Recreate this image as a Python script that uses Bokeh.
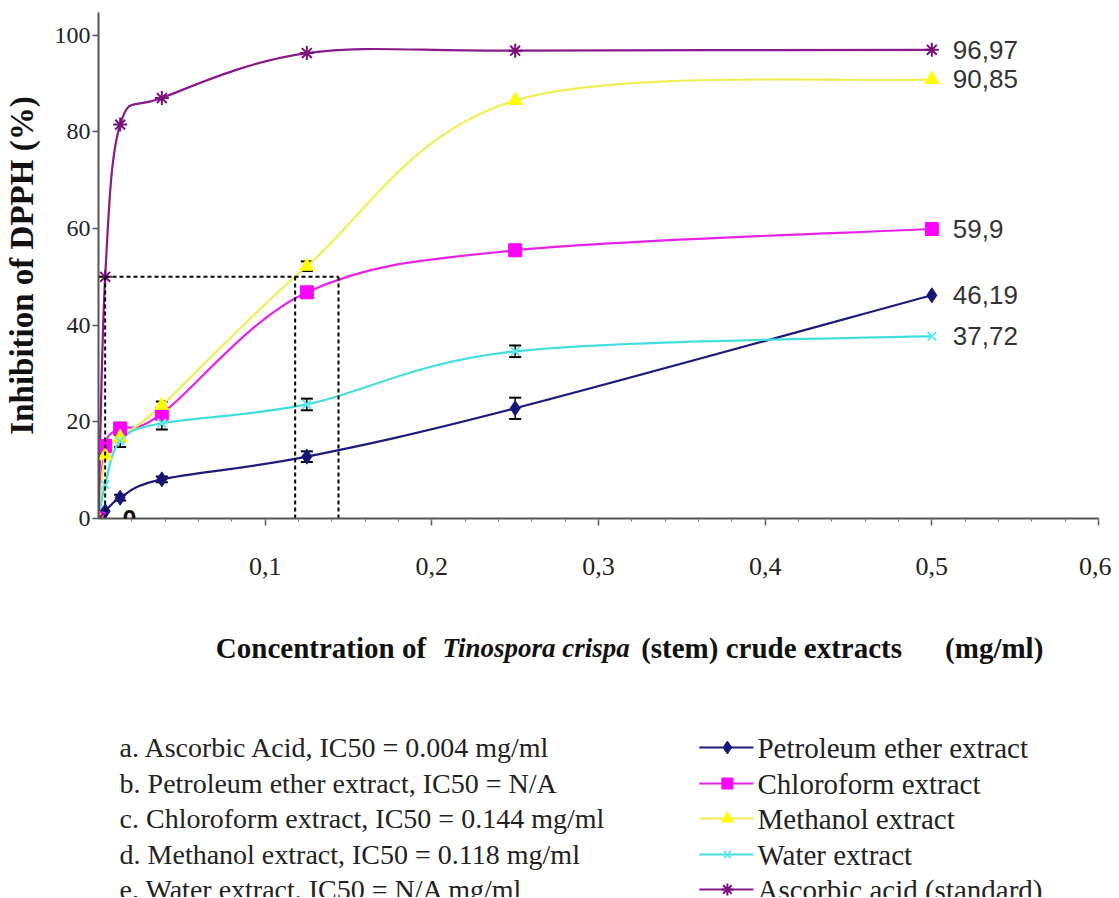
import numpy as np
from bokeh.plotting import figure
from bokeh.layouts import column
from bokeh.models import (Range1d, FixedTicker, ColumnDataSource, Whisker, TeeHead,
                          CustomJSTickFormatter, Label)
from bokeh.core.properties import value
from bokeh.embed import file_html
from bokeh.resources import INLINE

# ---------------- data ----------------
conc = [0, 0.004, 0.013, 0.038, 0.125, 0.25, 0.5]
petroleum = [0, 1.5, 4.3, 8.1, 12.8, 22.8, 46.19]
chloroform = [0, 15.0, 18.6, 21.7, 46.8, 55.5, 59.9]
methanol = [0, 13.0, 16.8, 23.4, 52.2, 86.5, 90.85]
water = [0, 7.0, 16.0, 19.7, 23.6, 34.6, 37.72]
ascorbic = [0, 50.0, 81.5, 87.0, 96.3, 96.8, 96.97]

petroleum_err = [0, 0, 0.6, 0.6, 1.1, 2.2, 0]
chloroform_err = [0, 0, 1.2, 0, 0, 0, 0]
methanol_err = [0, 0, 0.8, 0.8, 1.0, 0, 0]
water_err = [0, 0, 1.2, 1.3, 1.2, 1.2, 0]

ic50_x = [0.004, 0.118, 0.144]
ic50_y = 50

x_ticks = [0.1, 0.2, 0.3, 0.4, 0.5, 0.6]
y_ticks = [0, 20, 40, 60, 80, 100]

series_names = ["Petroleum ether extract", "Chloroform extract", "Methanol extract",
                "Water extract", "Ascorbic acid (standard)"]
notes = ["a. Ascorbic Acid, IC50 = 0.004 mg/ml",
         "b. Petroleum ether extract, IC50 = N/A",
         "c. Chloroform extract, IC50 = 0.144 mg/ml",
         "d. Methanol extract, IC50 = 0.118 mg/ml",
         "e. Water extract, IC50 = N/A mg/ml"]

SERIF_NAME = "Liberation Serif"
SERIF = value(SERIF_NAME)
SANS = value("Liberation Sans")

styles = [
    dict(vals=petroleum, err=petroleum_err, line="#1c1c7c", marker="diamond", fill="#16167a", size=15),
    dict(vals=chloroform, err=chloroform_err, line="#e622e6", marker="square", fill="#ff00ff", size=13),
    dict(vals=methanol, err=methanol_err, line="#eeee55", marker="triangle", fill="#ffff00", size=14),
    dict(vals=water, err=water_err, line="#44dddd", marker="x", fill="#66e8e8", size=12),
    dict(vals=ascorbic, err=None, line="#8a1a8a", marker="asterisk", fill="#7a107a", size=14),
]


def bezier_parts(xs, ys):
    P = np.column_stack([xs, ys]).astype(float)
    Q = np.vstack([P[0], P, P[-1]])
    out = {k: [] for k in ("x0", "y0", "x1", "y1", "cx0", "cy0", "cx1", "cy1")}
    for i in range(len(P) - 1):
        p0, p1, p2, p3 = Q[i], Q[i + 1], Q[i + 2], Q[i + 3]
        c0 = p1 + (p2 - p0) / 6.0
        c1 = p2 - (p3 - p1) / 6.0
        out["x0"].append(p1[0]); out["y0"].append(p1[1])
        out["x1"].append(p2[0]); out["y1"].append(p2[1])
        out["cx0"].append(c0[0]); out["cy0"].append(c0[1])
        out["cx1"].append(c1[0]); out["cy1"].append(c1[1])
    return out


W = 1111
p = figure(width=W, height=598, x_range=Range1d(0, 0.6), y_range=Range1d(0, 104.7),
           output_backend="svg", toolbar_location=None,
           min_border_left=93, min_border_right=13, min_border_top=12, min_border_bottom=80)
p.outline_line_color = None
p.grid.visible = False
p.background_fill_color = "white"
p.border_fill_color = "white"

# axes
xa = p.xaxis[0]
xa.ticker = FixedTicker(ticks=x_ticks, minor_ticks=[round(0.02 * k, 2) for k in range(1, 31)])
xa.formatter = CustomJSTickFormatter(code="return tick.toFixed(1).replace('.', ',');")
xa.major_tick_out = 7
xa.major_tick_in = 0
xa.minor_tick_out = 3
xa.minor_tick_in = 0
xa.major_label_standoff = 32
xa.major_label_text_font = SERIF_NAME
xa.major_label_text_font_size = "26px"
xa.major_label_text_color = "#222222"
ya = p.yaxis[0]
ya.ticker = FixedTicker(ticks=y_ticks)
ya.major_tick_out = 6
ya.major_tick_in = 0
ya.minor_tick_out = 0
ya.minor_tick_in = 0
ya.major_label_standoff = 2
ya.major_label_text_font = SERIF_NAME
ya.major_label_text_font_size = "24px"
ya.major_label_text_color = "#222222"
ya.axis_label = "Inhibition of DPPH (%)"
ya.axis_label_text_font = SERIF_NAME
ya.axis_label_text_font_style = "bold"
ya.axis_label_text_font_size = "33px"
ya.axis_label_text_color = "#111111"
ya.axis_label_standoff = 12
for ax in (xa, ya):
    ax.axis_line_color = "#555555"
    ax.axis_line_width = 2
    ax.major_tick_line_color = "#555555"
    ax.major_tick_line_width = 1.5
    ax.minor_tick_line_color = "#777777"

# curves
for s in styles:
    b = bezier_parts(conc, s["vals"])
    p.bezier(x0=b["x0"], y0=b["y0"], x1=b["x1"], y1=b["y1"],
             cx0=b["cx0"], cy0=b["cy0"], cx1=b["cx1"], cy1=b["cy1"],
             line_color=s["line"], line_width=2.2)

# error bars
for s in styles:
    if s["err"] is None:
        continue
    xs = [x for x, e in zip(conc, s["err"]) if e > 0]
    up = [v + e for v, e in zip(s["vals"], s["err"]) if e > 0]
    lo = [v - e for v, e in zip(s["vals"], s["err"]) if e > 0]
    src = ColumnDataSource(dict(x=xs, upper=up, lower=lo))
    w = Whisker(source=src, base="x", upper="upper", lower="lower", dimension="height",
                line_color="black", line_width=1.5,
                upper_head=TeeHead(size=12, line_color="black", line_width=2),
                lower_head=TeeHead(size=12, line_color="black", line_width=2))
    p.add_layout(w)

# markers
for s in styles:
    kw = dict(x=conc, y=s["vals"], size=s["size"], marker=s["marker"])
    if s["marker"] in ("x", "asterisk"):
        p.scatter(line_color=s["fill"], line_width=2, **kw)
    else:
        p.scatter(fill_color=s["fill"], line_color=s["fill"], line_width=1, **kw)

# IC50 dashed guides
p.line(x=[0, max(ic50_x)], y=[ic50_y, ic50_y], line_color="black", line_width=2, line_dash="4 3")
for xv in ic50_x:
    p.line(x=[xv, xv], y=[0, ic50_y], line_color="black", line_width=2, line_dash="4 3")

# data labels on the last points
last_x = [conc[-1]] * len(styles)
last_y = [s["vals"][-1] for s in styles]
last_txt = [("%g" % v).replace(".", ",") for v in last_y]
p.text(x=last_x, y=last_y, text=last_txt, x_offset=21, text_baseline="middle",
       text_align="left", text_font=SANS, text_font_size="26px", text_color="#333333")
# label of the first point (not clipped by the frame)
p.add_layout(Label(x=conc[0], y=petroleum[0], text=("%g" % petroleum[0]), x_offset=24,
                   text_baseline="middle", text_align="left", text_font=SANS_NAME
                   if False else "Liberation Sans", text_font_style="bold",
                   text_font_size="25px", text_color="#111111"))

# ---------------- bottom panel (axis title, notes, legend) ----------------
# frame of this panel is aligned with the chart frame by the column layout,
# so its x range is expressed in page pixels (101 .. 1098).
H2 = 299
q = figure(width=W, height=H2, x_range=Range1d(101, 1098), y_range=Range1d(H2, 0),
           output_backend="svg", toolbar_location=None,
           x_axis_location=None, y_axis_location=None,
           min_border_left=0, min_border_right=0, min_border_top=0, min_border_bottom=0)
q.outline_line_color = None
q.grid.visible = False
q.background_fill_color = "white"
q.border_fill_color = "white"

ty = 49
tkw = dict(text_font=SERIF, text_baseline="middle", text_color="#111111")
q.text(x=[218], y=[ty], text=["Concentration of"], text_font_style="bold",
       text_font_size="29px", **tkw)
q.text(x=[444], y=[ty], text=["Tinospora crispa"], text_font_style="bold italic",
       text_font_size="27px", **tkw)
q.text(x=[642], y=[ty], text=["(stem) crude extracts"], text_font_style="bold",
       text_font_size="29px", **tkw)
q.text(x=[1043], y=[ty], text=["(mg/ml)"], text_font_style="bold", text_align="right",
       text_font_size="29px", **tkw)

rows_y = [149, 185, 220, 256, 291]
q.text(x=[122] * len(notes), y=rows_y, text=notes, text_font=SERIF, text_font_size="28px",
       text_baseline="middle", text_color="#222222")

for s, yy in zip(styles, rows_y):
    q.line(x=[700, 754], y=[yy, yy], line_color=s["line"], line_width=2.2)
    if s["marker"] in ("x", "asterisk"):
        q.scatter(x=[728], y=[yy], marker=s["marker"], size=s["size"] - 2,
                  line_color=s["fill"], line_width=2)
    else:
        q.scatter(x=[728], y=[yy], marker=s["marker"], size=s["size"] - 2,
                  fill_color=s["fill"], line_color=s["fill"])
q.text(x=[758] * len(series_names), y=rows_y, text=series_names, text_font=SERIF,
       text_font_size="29px", text_baseline="middle", text_color="#222222")

layout = column(p, q, spacing=0)
open("out.html", "w").write(file_html(layout, INLINE))
